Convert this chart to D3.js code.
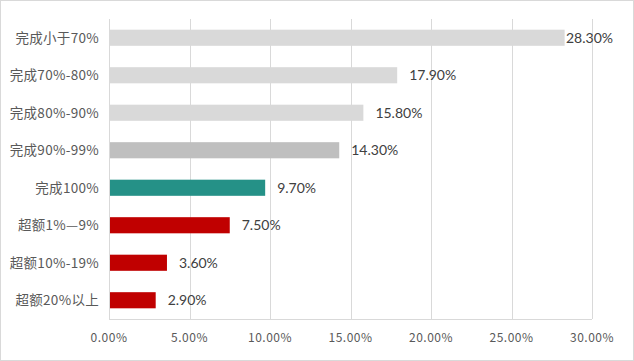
<!DOCTYPE html>
<html>
<head>
<meta charset="utf-8">
<script src="https://cdn.jsdelivr.net/npm/d3@7"></script>
<style>
  body { margin: 0; background: #fff; }
</style>
</head>
<body>
<div id="chart"></div>
<script>
const categories = ['完成小于70%', '完成70%-80%', '完成80%-90%', '完成90%-99%', '完成100%', '超额1%—9%', '超额10%-19%', '超额20%以上'];
const values = [28.3, 17.9, 15.8, 14.3, 9.7, 7.5, 3.6, 2.9];
const barColors = ['#d9d9d9', '#d9d9d9', '#d9d9d9', '#bfbfbf', '#259187', '#c00000', '#c00000', '#c00000'];
const ticks = [0, 5, 10, 15, 20, 25, 30];

const width = 634, height = 361;
const margin = { top: 19, right: 42, bottom: 42, left: 109 };

const svg = d3.select('#chart').append('svg')
  .attr('width', width)
  .attr('height', height);

// outer frame
svg.append('rect')
  .attr('x', 0.5).attr('y', 0.5)
  .attr('width', width - 1).attr('height', height - 1)
  .attr('fill', '#fff')
  .attr('stroke', '#d9d9d9');

const x = d3.scaleLinear().domain([0, 30]).range([margin.left, width - margin.right]);
const y = d3.scaleBand().domain(categories).range([margin.top, height - margin.bottom]).paddingInner(0.57).paddingOuter(0.285);

// vertical gridlines
svg.append('g')
  .selectAll('line')
  .data(ticks.slice(1))
  .join('line')
  .attr('x1', d => Math.round(x(d)) + 0.5)
  .attr('x2', d => Math.round(x(d)) + 0.5)
  .attr('y1', margin.top)
  .attr('y2', height - margin.bottom)
  .attr('stroke', '#d9d9d9');

// bars
svg.append('g')
  .selectAll('rect')
  .data(values)
  .join('rect')
  .attr('x', x(0))
  .attr('y', (d, i) => y(categories[i]))
  .attr('width', d => x(d) - x(0))
  .attr('height', y.bandwidth())
  .attr('fill', (d, i) => barColors[i]);

// axis lines
svg.append('line')
  .attr('x1', Math.round(x(0)) + 0.5).attr('x2', Math.round(x(0)) + 0.5)
  .attr('y1', margin.top).attr('y2', height - margin.bottom)
  .attr('stroke', '#d9d9d9');
svg.append('line')
  .attr('x1', x(0)).attr('x2', x(30))
  .attr('y1', height - margin.bottom + 0.5).attr('y2', height - margin.bottom + 0.5)
  .attr('stroke', '#d9d9d9');

// x tick labels
svg.append('g')
  .selectAll('text')
  .data(ticks)
  .join('text')
  .attr('x', d => x(d))
  .attr('y', height - margin.bottom + 23)
  .attr('text-anchor', 'middle')
  .style('font-family', '"Noto Sans CJK SC", "Noto Sans", sans-serif')
  .style('font-size', '12px')
  .style('letter-spacing', '0.5px')
  .style('fill', '#595959')
  .text(d => d.toFixed(2) + '%');

// category labels
svg.append('g')
  .selectAll('text')
  .data(categories)
  .join('text')
  .attr('x', margin.left - 10)
  .attr('y', d => y(d) + y.bandwidth() / 2)
  .attr('dy', '0.36em')
  .attr('text-anchor', 'end')
  .style('font-family', '"Noto Sans CJK SC", sans-serif')
  .style('font-size', '13.5px')
  .style('letter-spacing', '0.3px')
  .style('fill', '#595959')
  .text(d => d);

// data labels
const maxRight = 613;
svg.append('g')
  .selectAll('text')
  .data(values)
  .join('text')
  .attr('y', (d, i) => y(categories[i]) + y.bandwidth() / 2)
  .attr('dy', '0.36em')
  .style('font-family', 'Lato, "Liberation Sans", sans-serif')
  .style('font-size', '14px')
  .style('fill', '#404040')
  .text(d => d.toFixed(2) + '%')
  .each(function(d) {
    const w = this.getComputedTextLength();
    this.setAttribute('x', Math.min(x(d) + 12, maxRight - w));
  });
</script>
</body>
</html>
